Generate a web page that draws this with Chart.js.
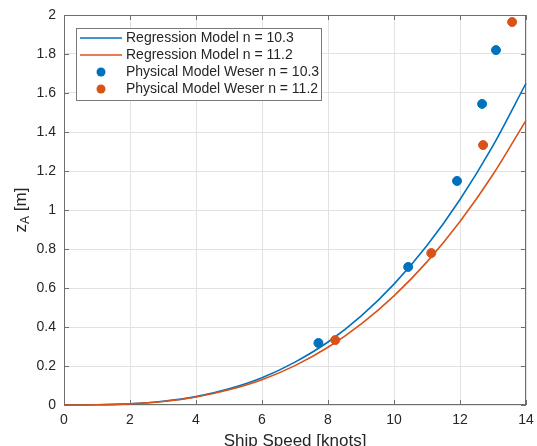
<!DOCTYPE html>
<html>
<head>
<meta charset="utf-8">
<script src="https://cdn.jsdelivr.net/npm/chart.js@4.4.1/dist/chart.umd.min.js"></script>
<style>
  html, body { margin: 0; padding: 0; background: #fff; }
  #wrap { width: 537px; height: 446px; }
</style>
</head>
<body>
<div id="wrap"><canvas id="zaChart" width="537" height="446"></canvas></div>
<script>
// Regression curves at whole knots
const speedGrid = [0, 1, 2, 3, 4, 5, 6, 7, 8, 9, 10, 11, 12, 13, 14];
const regression103 = [0, 0.001, 0.006, 0.019, 0.043, 0.083, 0.140, 0.220, 0.323, 0.456, 0.620, 0.818, 1.054, 1.330, 1.650];
const regression112 = [0, 0.001, 0.006, 0.018, 0.041, 0.078, 0.130, 0.202, 0.296, 0.415, 0.560, 0.734, 0.941, 1.182, 1.460];

// Physical model measurements
const physSpeed103 = [7.71, 10.43, 11.91, 12.67, 13.09];
const physZ103 = [0.318, 0.708, 1.149, 1.544, 1.820];
const physSpeed112 = [8.22, 11.13, 12.70, 13.58];
const physZ112 = [0.333, 0.779, 1.333, 1.964];

const seriesLabels = ['Regression Model n = 10.3', 'Regression Model n = 11.2',
                      'Physical Model Weser n = 10.3', 'Physical Model Weser n = 11.2'];
const xTitle = 'Ship Speed [knots]';

const BLUE = '#0072BD';
const ORANGE = '#D95319';
const TEXT = '#262626';
const FONT = '"Liberation Sans", Arial, sans-serif';

function toPoints(xs, ys) {
    return xs.map((x, i) => ({ x: x, y: ys[i] }));
}

// Box and inward ticks (MATLAB look), under the data
const matlabFrame = {
    id: 'matlabFrame',
    beforeDatasetsDraw(chart) {
        const ctx = chart.ctx;
        const a = chart.chartArea;
        const xs = chart.scales.x;
        const ys = chart.scales.y;
        ctx.save();
        ctx.strokeStyle = '#6e6e6e';
        ctx.lineWidth = 1;
        ctx.strokeRect(a.left + 0.5, a.top + 0.5, a.right - a.left - 1, a.bottom - a.top - 1);

        ctx.beginPath();
        xs.ticks.forEach(t => {
            const px = Math.round(xs.getPixelForValue(t.value)) + 0.5;
            ctx.moveTo(px, a.bottom); ctx.lineTo(px, a.bottom - 5);
            ctx.moveTo(px, a.top); ctx.lineTo(px, a.top + 5);
        });
        ys.ticks.forEach(t => {
            const py = Math.round(ys.getPixelForValue(t.value)) + 0.5;
            ctx.moveTo(a.left, py); ctx.lineTo(a.left + 5, py);
            ctx.moveTo(a.right, py); ctx.lineTo(a.right - 5, py);
        });
        ctx.stroke();
        ctx.restore();
    },
    // legend and axis titles
    afterDraw(chart) {
        const ctx = chart.ctx;
        const a = chart.chartArea;
        ctx.save();

        const lx = 76, ly = 28, lw = 245, lh = 72;
        ctx.fillStyle = '#fff';
        ctx.fillRect(lx, ly, lw, lh);
        ctx.strokeStyle = '#7a7a7a';
        ctx.lineWidth = 1;
        ctx.strokeRect(lx + 0.5, ly + 0.5, lw, lh);
        ctx.font = '14px ' + FONT;
        ctx.textBaseline = 'middle';
        ctx.textAlign = 'left';
        const rows = [38, 55, 72, 89];
        const colors = [BLUE, ORANGE, BLUE, ORANGE];
        rows.forEach((ry, i) => {
            if (i < 2) {
                ctx.strokeStyle = colors[i];
                ctx.lineWidth = 1.6;
                ctx.beginPath();
                ctx.moveTo(80, ry); ctx.lineTo(122, ry);
                ctx.stroke();
            } else {
                ctx.fillStyle = colors[i];
                ctx.beginPath();
                ctx.arc(101, ry, 4.5, 0, Math.PI * 2);
                ctx.fill();
            }
            ctx.fillStyle = TEXT;
            ctx.fillText(seriesLabels[i], 126, ry + 0.5);
        });

        // x title
        ctx.font = '17px ' + FONT;
        ctx.textAlign = 'center';
        ctx.fillStyle = TEXT;
        ctx.fillText(xTitle, (a.left + a.right) / 2, 441);

        // y title z_A [m]
        ctx.translate(21, (a.top + a.bottom) / 2);
        ctx.rotate(-Math.PI / 2);
        ctx.font = '17px ' + FONT;
        const wz = ctx.measureText('z').width;
        const wm = ctx.measureText(' [m]').width;
        ctx.font = '12px ' + FONT;
        const wa = ctx.measureText('A').width;
        const x0 = -(wz + wa + wm) / 2;
        ctx.textAlign = 'left';
        ctx.font = '17px ' + FONT;
        ctx.fillText('z', x0, 0);
        ctx.font = '12px ' + FONT;
        ctx.fillText('A', x0 + wz, 5);
        ctx.font = '17px ' + FONT;
        ctx.fillText(' [m]', x0 + wz + wa, 0);

        ctx.restore();
    }
};

const ctx = document.getElementById('zaChart').getContext('2d');
new Chart(ctx, {
    type: 'scatter',
    data: {
        datasets: [
            {
                label: seriesLabels[0],
                data: toPoints(speedGrid, regression103),
                showLine: true,
                borderColor: BLUE,
                borderWidth: 1.6,
                pointRadius: 0,
                cubicInterpolationMode: 'monotone',
                clip: { left: 2, right: 2, top: 0, bottom: 2 },
                order: 4
            },
            {
                label: seriesLabels[1],
                data: toPoints(speedGrid, regression112),
                showLine: true,
                borderColor: ORANGE,
                borderWidth: 1.6,
                pointRadius: 0,
                cubicInterpolationMode: 'monotone',
                clip: { left: 2, right: 2, top: 0, bottom: 2 },
                order: 3
            },
            {
                label: seriesLabels[2],
                data: toPoints(physSpeed103, physZ103),
                backgroundColor: BLUE,
                borderColor: BLUE,
                pointRadius: 4.5,
                order: 2
            },
            {
                label: seriesLabels[3],
                data: toPoints(physSpeed112, physZ112),
                backgroundColor: ORANGE,
                borderColor: ORANGE,
                pointRadius: 4.5,
                order: 1
            }
        ]
    },
    options: {
        responsive: false,
        animation: false,
        devicePixelRatio: 1,
        layout: { padding: { top: 15, right: 11, left: 0, bottom: 0 } },
        plugins: {
            legend: { display: false },
            tooltip: { enabled: false }
        },
        scales: {
            x: {
                type: 'linear',
                min: 0,
                max: 14,
                ticks: { stepSize: 2, color: TEXT, padding: 7, font: { family: FONT, size: 14 } },
                grid: { color: '#e2e2e2', drawTicks: false },
                border: { display: false },
                afterFit: s => { s.height = 41; s.paddingLeft = 0; s.paddingRight = 0; }
            },
            y: {
                min: 0,
                max: 2,
                ticks: {
                    stepSize: 0.2, color: TEXT, padding: 8, font: { family: FONT, size: 14 },
                    callback: v => String(Math.round(v * 10) / 10)
                },
                grid: { color: '#e2e2e2', drawTicks: false },
                border: { display: false },
                afterFit: s => { s.width = 64; s.paddingTop = 0; s.paddingBottom = 0; }
            }
        }
    },
    plugins: [matlabFrame]
});
</script>
</body>
</html>
